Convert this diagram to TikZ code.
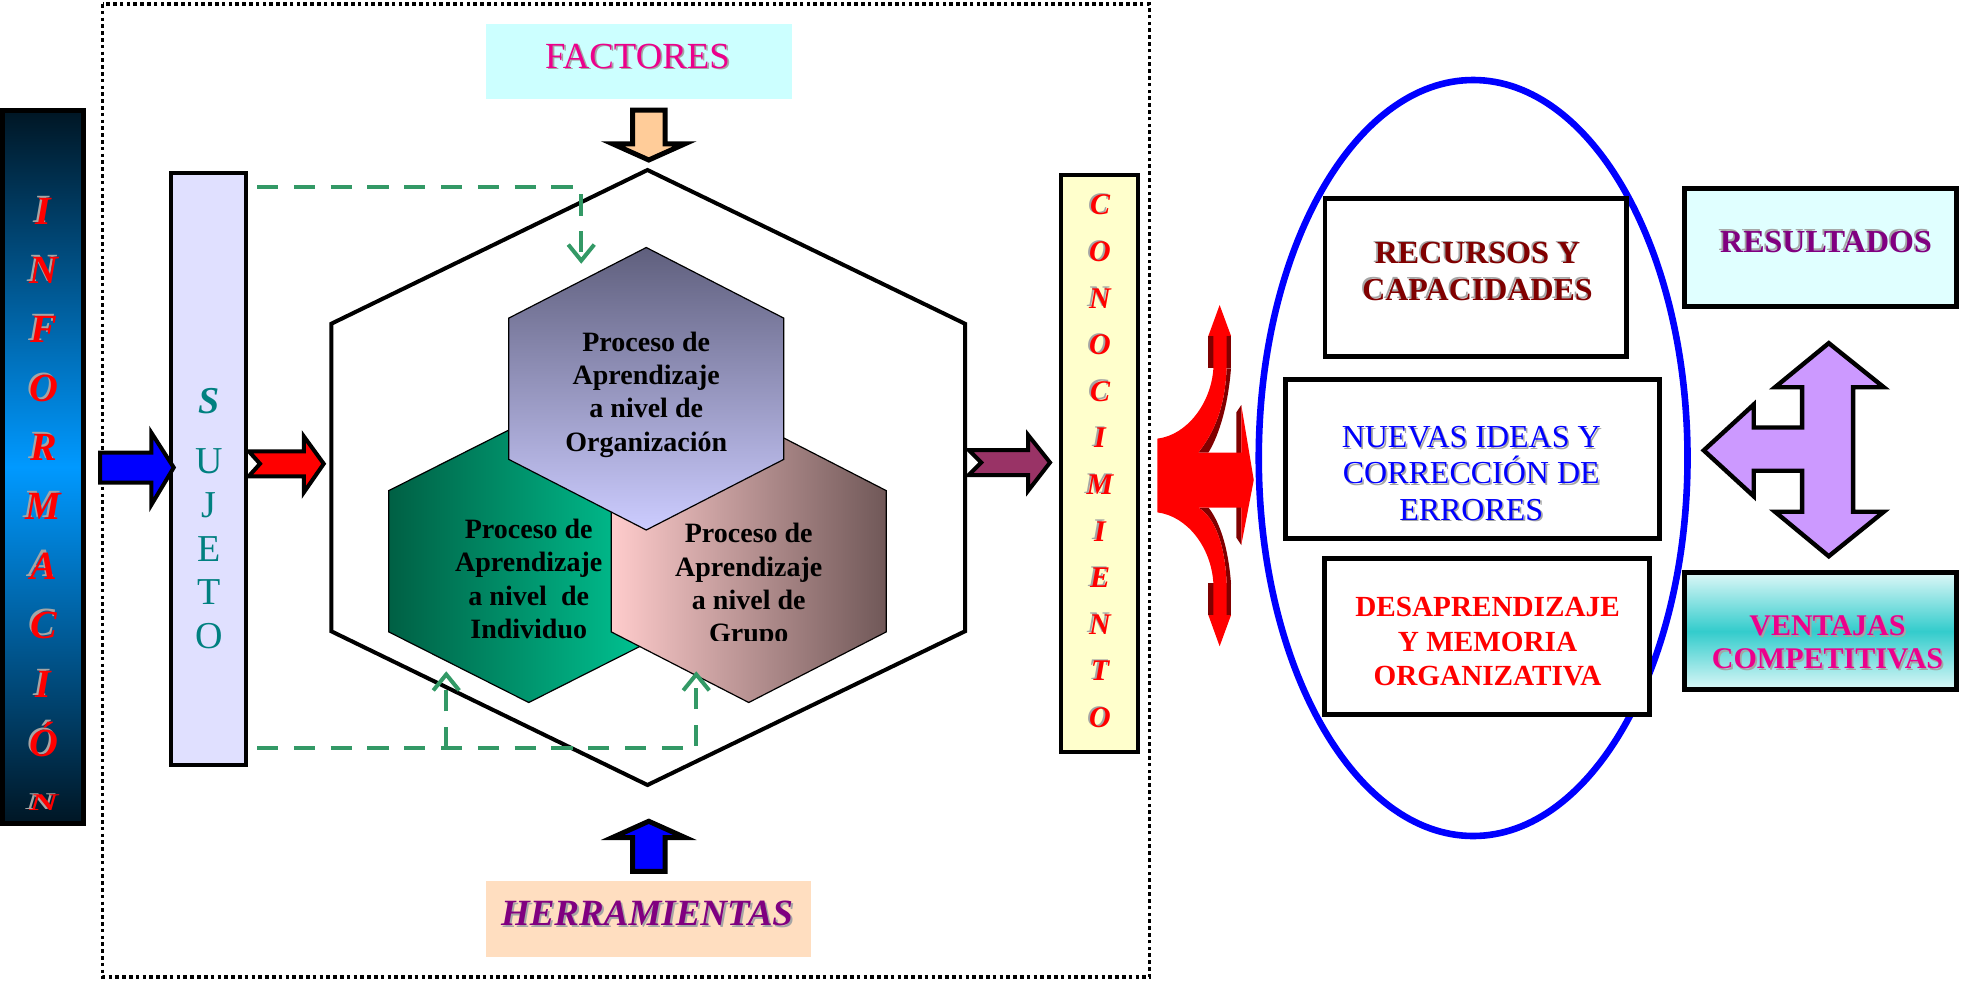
\documentclass[tikz,border=0pt]{standalone}
\usepackage{fontspec}
\setmainfont{Liberation Serif}
\usepackage{graphicx}
\usetikzlibrary{arrows.meta, calc, fit}

\definecolor{factcyan}{RGB}{204,255,255}
\definecolor{herrpeach}{RGB}{255,222,192}
\definecolor{peach}{RGB}{255,204,153}
\definecolor{sujlilac}{RGB}{224,224,255}
\definecolor{sujteal}{RGB}{0,128,128}
\definecolor{violetext}{RGB}{128,0,128}
\definecolor{conyellow}{RGB}{255,255,204}
\definecolor{rescyan}{RGB}{224,255,255}
\definecolor{ventlight}{RGB}{220,247,247}
\definecolor{ventmid}{RGB}{51,204,204}
\definecolor{lavender}{RGB}{204,153,255}
\definecolor{wine}{RGB}{153,51,102}
\definecolor{darkred}{RGB}{128,0,0}
\definecolor{ghostgray}{RGB}{165,165,165}
\definecolor{dashgreen}{RGB}{51,153,102}
\definecolor{infodark}{RGB}{0,22,36}
\definecolor{infoblue}{RGB}{0,153,255}
\definecolor{orgtop}{RGB}{95,95,125}
\definecolor{orgbot}{RGB}{204,204,255}
\definecolor{indleft}{RGB}{0,96,68}
\definecolor{indright}{RGB}{0,204,153}
\definecolor{grpleft}{RGB}{255,204,204}
\definecolor{grpright}{RGB}{112,88,88}

\tikzstyle{dotframe} = [line width=1.8pt, dash pattern=on 1.8pt off 1.6pt]
\tikzstyle{linebox} = [rectangle, inner sep=0pt, draw=black, line width=2.4pt]
\tikzstyle{fillbox} = [rectangle, inner sep=0pt, draw=none]
\tikzstyle{word} = [inner sep=0pt, align=center]
\tikzstyle{hextxt} = [word, font=\fontsize{14pt}{16.7pt}\selectfont\bfseries]
\tikzstyle{hexline} = [draw=black, line width=0.6pt]
\tikzstyle{blockarrow} = [draw=black, line width=2pt, line join=miter]
\tikzstyle{greendash} = [draw=dashgreen, line width=2pt, dash pattern=on 10.6pt off 7.8pt, -{Straight Barb[length=8pt,width=13pt]}]

% text with a grey copy behind it
\newcommand{\ghosttext}[5]{%
  \node[word, #4, text=ghostgray] (#1-g) at ([shift={#3}]#2) {#5};
  \node[word, #4] (#1) at (#2) {#5};
}

\begin{document}
\begin{tikzpicture}[x=0.625pt, y=-0.625pt]
        \useasboundingbox (0,0) rectangle (1569.6,784);
        % \draw[help lines] (0,0) grid (1569,784);
        \draw[dotframe] (82,3.2) rectangle (919.5,781.6);

        % factores on top
        \node (factbox) [fillbox, fill=factcyan, fit={(389,19) (633.6,79.5)}] {};
        \ghosttext{fact}{510,45}{(1.3,1.3)}{text=magenta, font=\fontsize{18.4pt}{20pt}\selectfont}{FACTORES}
        \draw[blockarrow, line width=2.5pt, fill=peach] (506,88) -- (532,88) -- (532,115) -- (548,115) -- (519,128) -- (490,115) -- (506,115) -- cycle;

        % big hexagon with the three levels
        \draw[line width=2pt] (518,136) -- (772,259) -- (772,505) -- (518,628) -- (265,505) -- (265,259) -- cycle;
        \path[hexline, left color=indleft, right color=indright] (423,336) -- (535,392.5) -- (535,505.5) -- (423,562) -- (311,505.5) -- (311,392.5) -- cycle;
        \path[hexline, left color=grpleft, right color=grpright] (599,336) -- (709,392.5) -- (709,505.5) -- (599,562) -- (489,505.5) -- (489,392.5) -- cycle;
        \path[hexline, top color=orgtop, bottom color=orgbot] (517,198) -- (627,254.5) -- (627,367.5) -- (517,424) -- (407,367.5) -- (407,254.5) -- cycle;

        \node[hextxt] (orgtxt) at (517,315.7) {Proceso de\\Aprendizaje\\a nivel de\\Organización};
        \begin{scope}
            \clip (300,380) rectangle (720,512);
            \node[hextxt] (indtxt) at (423,463) {Proceso de\\Aprendizaje\\a nivel\ \ de\\Individuo};
            \node[hextxt] (grptxt) at (599,468.9) {Proceso de\\Aprendizaje\\a nivel de\\Grupo};
        \end{scope}

        % sujeto
        \node (suj) [linebox, line width=2pt, fill=sujlilac, fit={(137,138) (197,612)}] {};
        \node[word, text=sujteal, font=\fontsize{19pt}{21.9pt}\selectfont] (sujtxt) at (167,415) {\textbf{\textit{S}}\\[8.1pt]U\\J\\E\\T\\O};

        \coordinate (orgin) at (465,211);
        \coordinate (indin) at (357,537);
        \coordinate (grpin) at (557,537);
        \draw[greendash] ([shift={(7,13.5)}]suj.north east) -| (orgin);
        \draw[greendash] ([shift={(7,-15)}]suj.south east) coordinate (low) -| (grpin);
        \draw[greendash] (low -| indin) -- (indin);

        % informacion
        \node (infbar) [linebox, line width=2.5pt, top color=infodark, bottom color=infodark, middle color=infoblue, fit={(2,88) (66.5,659)}] {};
        \ghosttext{inf}{35,382}{(-1.8,-1.8)}{text=red, font=\fontsize{20pt}{29.56pt}\selectfont\bfseries\itshape}{I\\N\\F\\O\\R\\M\\A\\C\\I\\Ó}
        \ghosttext{infn}{35,642}{(-3,-0.5)}{text=red, font=\fontsize{20pt}{20pt}\selectfont\bfseries\itshape}{\scalebox{1}[0.6]{N}}

        \draw[blockarrow, fill=blue] (80,362) -- (121,362) -- (121,346) -- (139,374) -- (121,404) -- (121,386) -- (80,386) -- cycle;
        \draw[blockarrow, fill=red] (199,361) -- (243,361) -- (243,349) -- (259,371) -- (243,394) -- (243,381) -- (199,381) -- (208,371) -- cycle;
        \draw[blockarrow, fill=wine] (775,360) -- (822.5,360) -- (822.5,348) -- (840,370) -- (822.5,392.6) -- (822.5,380) -- (775,380) -- (785,370) -- cycle;

        % conocimiento
        \node (conbox) [linebox, line width=2pt, fill=conyellow, fit={(849,139.6) (910.6,601.4)}] {};
        \ghosttext{con}{880,369.2}{(-1.6,-1.2)}{text=red, font=\fontsize{15pt}{23.3pt}\selectfont\bfseries\itshape}{C\\O\\N\\O\\C\\I\\M\\I\\E\\N\\T\\O}

        % three way red arrow
        \fill[darkred] (966.7,268.7) rectangle (984.8,294.6);
        \fill[darkred] (984.8,294.6) .. controls (982,330) and (973,352) .. (966.7,362) -- (958.7,362) .. controls (972,345) and (980,325) .. (981.3,294.6) -- cycle;
        \fill[darkred] (966.7,466.6) rectangle (984.8,492.1);
        \fill[darkred] (984.8,466.6) .. controls (982,431) and (973,414) .. (966.7,406) -- (958.7,406) .. controls (972,414) and (980,436) .. (981.3,466.6) -- cycle;
        \fill[darkred] (989,330) -- (993,324) -- (993,436) -- (989,430) -- cycle;
        \fill[red] (925.9,350.9) .. controls (950,348) and (969,322) .. (970.7,294.6) -- (970.7,268.7) -- (966.7,268.7) -- (975.7,244) -- (984.8,268.7) -- (981.3,268.7) -- (981.3,294.6) .. controls (980,325) and (972,345) .. (958.7,362) -- (993,362) -- (993,324) -- (1003,384) -- (993,436) -- (993,406) -- (958.7,406) .. controls (972,414) and (980,436) .. (981.3,466.6) -- (981.3,492.1) -- (984.8,492.1) -- (975.7,517) -- (966.7,492.1) -- (970.7,492.1) -- (970.7,466.6) .. controls (969,438) and (950,413) .. (925.9,409.9) -- cycle;

        % results ring
        \draw[blue, line width=3.3pt] (1178.5,366.4) ellipse [x radius=171.5, y radius=302.4];

        \node (recbox) [linebox, fill=white, fit={(1060,159) (1301.4,285.4)}] {};
        \ghosttext{rec}{1182,217.2}{(-1.4,-1.2)}{text=darkred, font=\fontsize{16pt}{18.25pt}\selectfont\bfseries}{RECURSOS Y\\CAPACIDADES}
        \node (nuebox) [linebox, fill=white, fit={(1028.2,303.7) (1327.8,430.7)}] {};
        \ghosttext{nue}{1177,378.7}{(1.3,1.3)}{text=blue, font=\fontsize{16pt}{18.2pt}\selectfont}{NUEVAS IDEAS Y\\CORRECCIÓN DE\\ERRORES}
        \node (desbox) [linebox, fill=white, fit={(1059.8,447) (1319.8,571.6)}] {};
        \node[word, text=red, font=\fontsize{14.6pt}{17.2pt}\selectfont\bfseries] (des) at (1190,513.4) {DESAPRENDIZAJE\\Y MEMORIA\\ORGANIZATIVA};

        \node (resbox) [linebox, fill=rescyan, fit={(1347.6,150.6) (1565,245.5)}] {};
        \ghosttext{res}{1460.8,193.4}{(-1.4,-1.2)}{text=violetext, font=\fontsize{16pt}{18pt}\selectfont\bfseries}{RESULTADOS}
        \node (venbox) [linebox, top color=ventlight, bottom color=ventlight, middle color=ventmid, fit={(1347.6,458.3) (1565,551.7)}] {};
        \ghosttext{ven}{1462,514}{(1.4,1.2)}{text=magenta, font=\fontsize{15pt}{16.3pt}\selectfont\bfseries}{VENTAJAS\\COMPETITIVAS}

        \draw[blockarrow, line width=2.2pt, fill=lavender] (1463,274.5) -- (1507,309.8) -- (1482.5,309.8) -- (1482.5,409.4) -- (1507,409.4) -- (1463,445) -- (1420,409.4) -- (1441.7,409.4) -- (1441.7,376.6) -- (1403,376.6) -- (1403,397) -- (1363,360.3) -- (1403,323.6) -- (1403,342) -- (1441.7,342) -- (1441.7,309.8) -- (1420,309.8) -- cycle;

        % herramientas at the bottom
        \draw[blockarrow, line width=2.5pt, fill=blue] (506,697) -- (532,697) -- (532,670) -- (548,670) -- (519,657) -- (490,670) -- (506,670) -- cycle;
        \node (herrbox) [fillbox, fill=herrpeach, fit={(389,705) (649,765.6)}] {};
        \ghosttext{herr}{517.6,731}{(1.5,1)}{text=violetext, font=\fontsize{18.5pt}{20pt}\selectfont\bfseries\itshape}{HERRAMIENTAS}

    \end{tikzpicture}
\end{document}
